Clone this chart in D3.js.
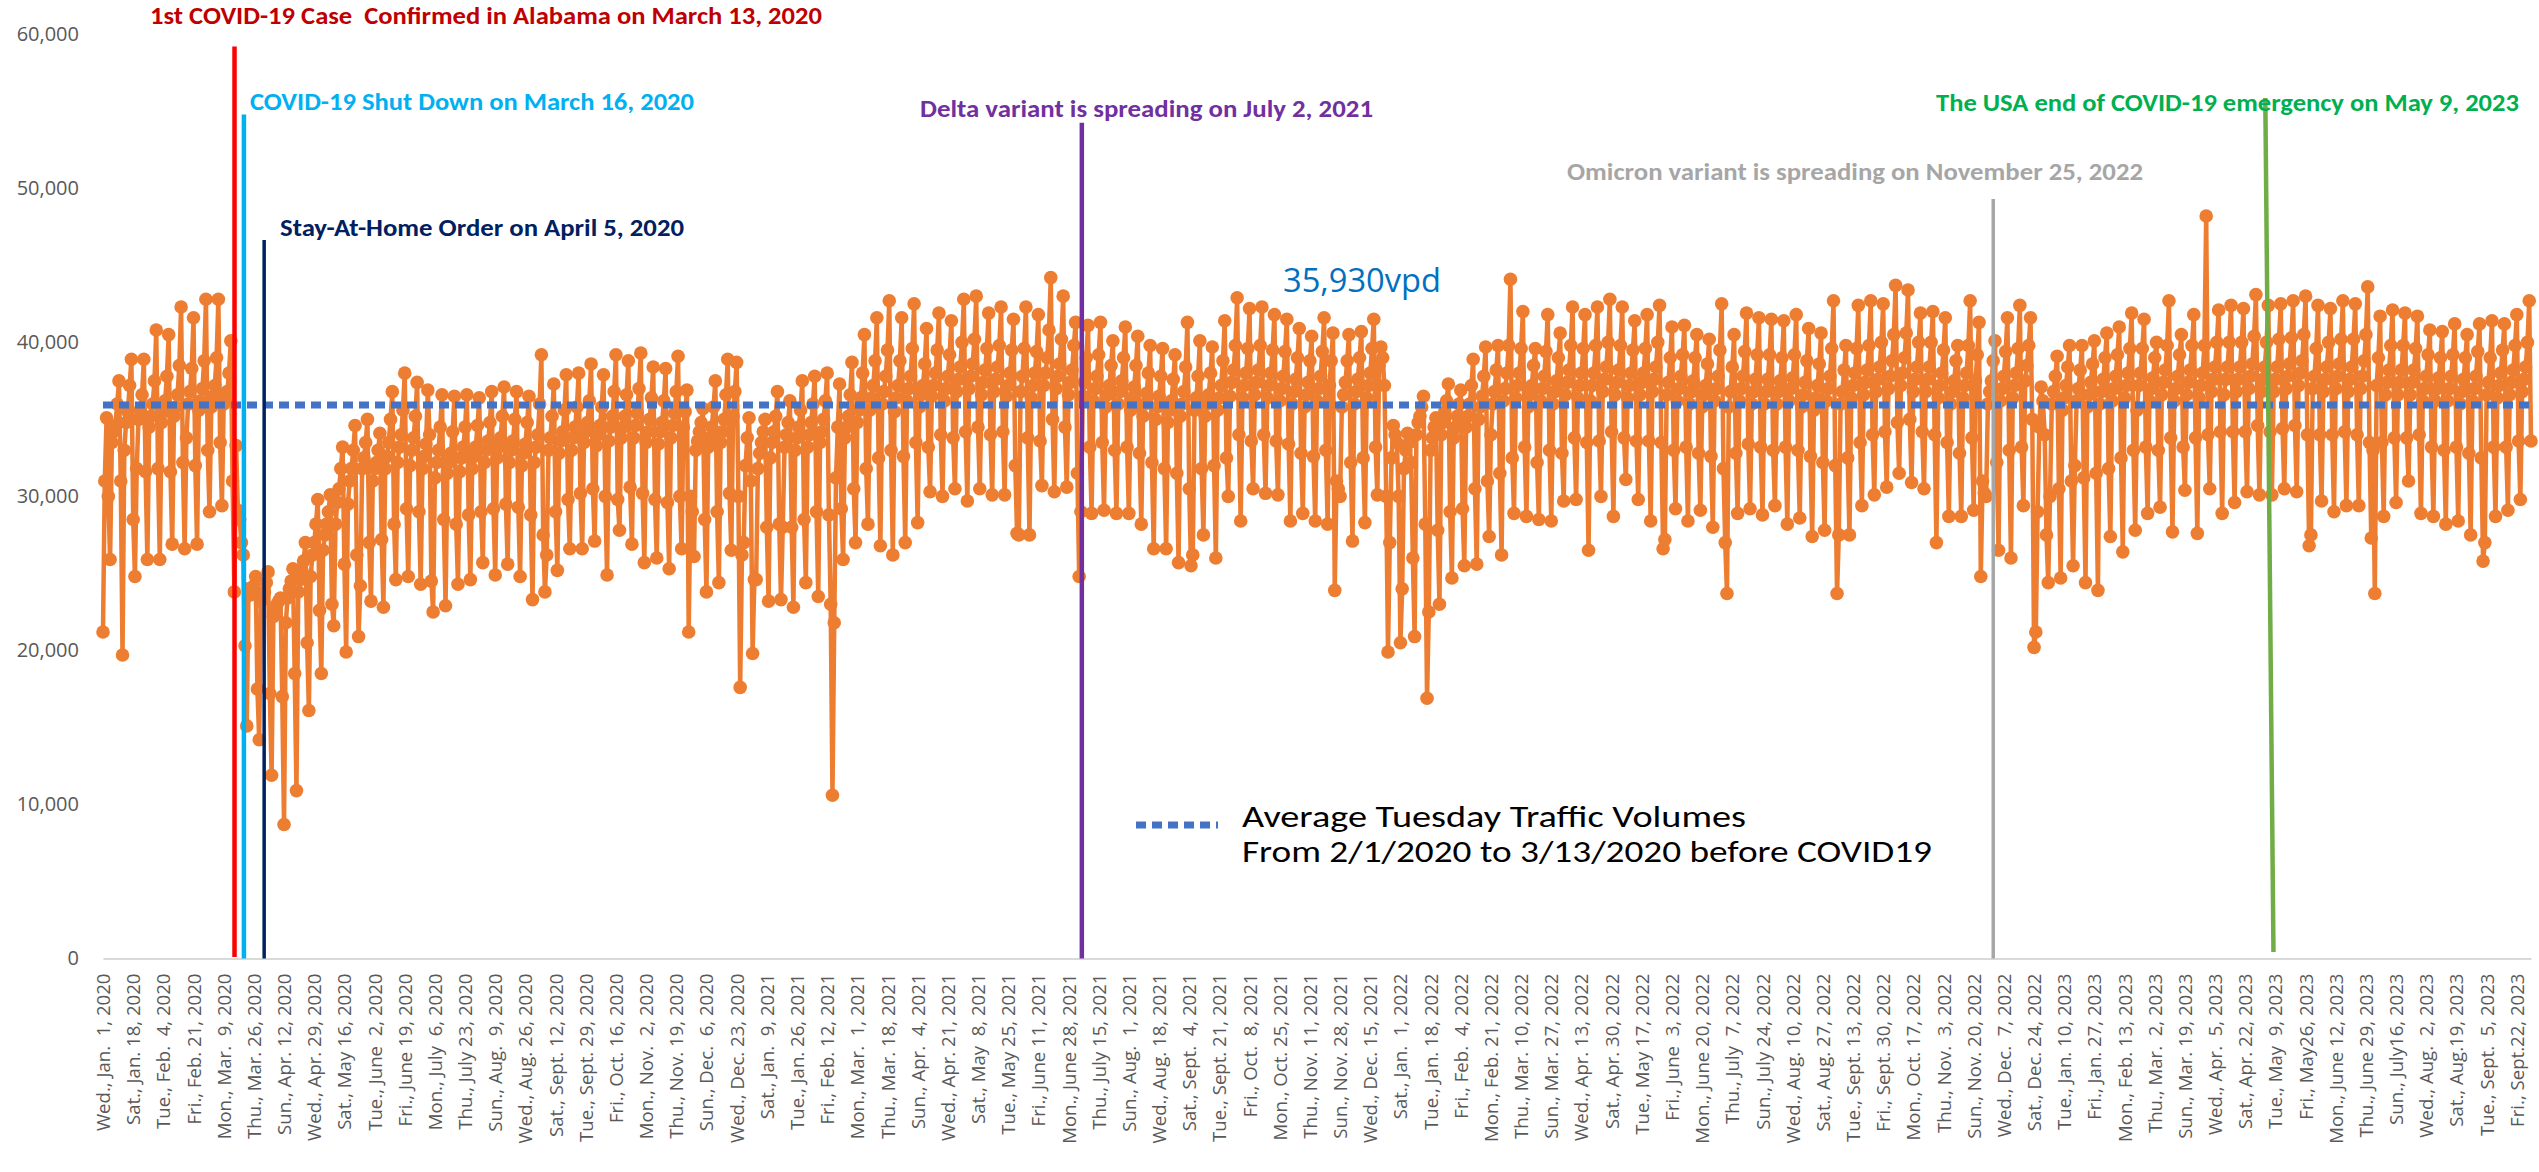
<!DOCTYPE html>
<html>
<head>
<meta charset="utf-8">
<script src="https://cdn.jsdelivr.net/npm/d3@7/dist/d3.min.js"></script>
<style>
  body { margin: 0; background: #fff; }
  text { white-space: pre; }
</style>
</head>
<body>
<script>

// Daily traffic volumes, in hundreds of vehicles per day.
// One row per week (Sun .. Sat); the first row starts on Wed., Jan. 1, 2020.
var weeks2020 = [
  "212 310 351 300",
  "259 335 342 346 360 375 310",
  "197 330 348 355 372 389 285",
  "248 318 350 356 366 389 316",
  "259 345 352 360 375 408 318",
  "259 348 355 362 378 405 316",
  "269 352 358 366 385 423 322",
  "266 338 360 368 383 416 320",
  "269 356 362 370 388 428 330",
  "290 358 365 372 390 428 335",
  "294 360 362 368 380 401 310",
  "238 333 291 285 270 262 203",
  "151 240 236 238 242 248 175",
  "142 232 235 238 244 251 172",
  "119 222 226 230 232 234 170",
  "87 218 234 240 245 253 185",
  "109 238 246 252 258 270 205",
  "161 248 262 270 282 298 226",
  "185 265 275 282 290 301 230",
  "216 282 296 305 318 332 256",
  "199 295 310 318 330 346 262",
  "209 242 318 325 335 350 270",
  "232 310 318 322 330 341 272",
  "228 318 326 335 350 368 282",
  "246 322 332 340 356 380 292",
  "248 320 330 338 352 374 290",
  "243 318 326 334 369 340 245",
  "225 312 322 330 345 366 285",
  "229 315 322 328 342 365 282",
  "243 316 325 332 345 366 288",
  "246 318 326 332 346 364 290",
  "257 322 330 336 348 368 292",
  "249 325 332 338 352 371 295",
  "256 322 330 336 350 368 293",
  "248 320 328 334 348 365 288",
  "233 322 332 340 360 392 275",
  "238 262 330 338 352 373 290",
  "252 328 336 342 356 379 298",
  "266 330 338 345 358 380 302",
  "266 335 342 348 362 386 305",
  "271 333 340 346 358 379 300",
  "249 336 345 352 368 392 298",
  "278 338 345 352 366 388 306",
  "269 338 346 354 370 393 302",
  "257 335 342 350 364 384 298",
  "260 334 342 348 362 383 296",
  "253 338 346 354 368 391 300",
  "266 345 355 369 212 300 290",
  "261 330 336 342 348 357 285",
  "238 332 338 345 358 375 290",
  "244 335 342 350 366 389 302",
  "265 352 368 387 300 176 262",
  "270 320 338 351 310 198 246"
];

var weeks2021 = [
  "246 318 328 335 342 350 280",
  "232 325 335 342 352 368 282",
  "233 280 332 340 348 362 280",
  "228 330 338 345 356 375 285",
  "244 332 340 348 360 378 290",
  "235 335 342 350 362 380 288",
  "230 106 218 312 345 373 292",
  "259 338 345 352 366 387 305",
  "270 348 356 364 380 405 318",
  "282 356 364 372 388 416 325",
  "268 360 368 378 395 427 330",
  "262 355 364 372 388 416 326",
  "270 362 370 378 396 425 335",
  "283 358 366 372 386 409 332",
  "303 365 372 380 395 419 340",
  "300 362 370 378 392 414 338",
  "305 368 376 384 400 428 342",
  "297 370 378 386 402 430 345",
  "305 366 374 382 396 419 340",
  "301 368 376 384 398 423 342",
  "301 365 372 380 395 415 320",
  "276 275 368 378 396 423 338",
  "275 364 372 380 394 418 336",
  "307 372 380 390 408 442 350",
  "303 370 378 386 402 430 345",
  "306 366 374 382 398 413 315",
  "248 290 365 374 390 411 332",
  "289 362 370 378 392 413 335",
  "291 358 366 372 385 401 330",
  "289 360 368 375 390 410 332",
  "289 356 364 371 385 404 328",
  "282 352 360 367 380 398 322",
  "266 350 358 365 378 396 318",
  "266 348 356 362 376 392 315",
  "257 352 360 368 384 413 305",
  "255 262 356 364 378 401 318",
  "275 352 360 366 380 397 320",
  "260 356 364 372 388 414 325",
  "300 365 374 382 398 429 340",
  "284 364 372 380 396 422 336",
  "305 366 374 382 398 423 340",
  "302 364 372 380 395 418 336",
  "301 362 370 378 394 415 334",
  "284 360 368 376 390 409 328",
  "289 358 366 374 388 404 326",
  "284 362 370 378 394 416 330",
  "282 372 388 406 239 310 305",
  "300 358 366 374 388 405 322",
  "271 360 368 376 390 407 325",
  "283 364 372 380 396 415 332",
  "301 385 397 390 372 300 199",
  "270 325 346 340 335 300 205"
];

var weeks2022 = [
  "240 318 330 341 335 322 260",
  "209 340 348 352 358 365 282",
  "169 225 330 338 345 351 278",
  "230 340 348 355 362 373 290",
  "247 338 345 352 360 369 292",
  "255 345 352 360 372 389 305",
  "256 350 358 365 378 397 310",
  "274 340 360 368 382 398 315",
  "262 362 370 380 398 441 325",
  "289 364 372 380 396 420 332",
  "287 358 366 372 385 396 322",
  "285 362 370 378 394 418 330",
  "284 360 368 375 390 406 328",
  "297 366 374 382 398 423 338",
  "298 364 372 380 396 418 335",
  "265 362 372 380 398 423 336",
  "300 368 376 384 400 428 342",
  "287 366 374 382 398 423 338",
  "311 364 372 380 395 414 336",
  "298 366 374 380 396 418 336",
  "284 368 376 384 400 424 335",
  "266 272 366 374 390 410 330",
  "292 362 370 378 392 411 332",
  "284 360 368 375 390 405 328",
  "291 358 366 372 386 402 326",
  "280 362 370 378 395 425 318",
  "270 237 358 368 384 405 328",
  "289 362 370 378 394 419 334",
  "292 360 368 376 392 416 332",
  "288 360 368 376 392 415 330",
  "294 360 368 375 390 414 332",
  "282 362 370 377 392 418 330",
  "286 358 366 374 388 409 326",
  "274 356 364 372 386 406 322",
  "278 362 370 378 396 427 320",
  "237 275 360 368 382 398 325",
  "275 364 372 380 396 424 335",
  "294 366 374 382 398 427 340",
  "301 368 376 384 400 425 342",
  "306 370 378 388 405 437 348",
  "315 372 380 390 406 434 350",
  "309 368 376 384 400 419 342",
  "305 368 376 384 400 420 340",
  "270 364 372 380 395 416 335",
  "287 360 368 375 388 398 328",
  "287 364 372 380 398 427 338",
  "291 375 392 413 248 310 302",
  "300 360 368 375 388 401 322",
  "265 362 370 378 394 416 330",
  "260 364 372 380 396 424 332",
  "294 375 385 398 416 350 202",
  "212 290 345 371 362 340 275"
];

var weeks2023 = [
  "244 300 360 368 378 391 305",
  "247 356 364 372 384 398 310",
  "255 320 362 370 382 398 312",
  "244 358 366 374 386 401 315",
  "239 360 368 376 390 406 318",
  "274 362 370 378 392 410 325",
  "264 364 372 380 396 419 330",
  "278 356 372 380 396 415 332",
  "289 362 370 377 390 400 330",
  "293 366 374 382 398 427 338",
  "277 362 370 378 392 405 332",
  "304 366 374 382 398 418 338",
  "276 364 372 380 398 482 340",
  "305 368 376 384 400 421 342",
  "289 366 376 384 400 424 342",
  "296 368 376 384 400 422 342",
  "303 370 378 386 404 431 346",
  "301 368 376 384 400 424 342",
  "301 368 376 384 402 425 344",
  "305 370 378 386 403 427 346",
  "303 372 380 388 405 430 340",
  "268 275 370 378 396 424 340",
  "297 368 376 384 400 422 340",
  "290 370 378 386 402 427 342",
  "294 368 376 384 402 425 340",
  "294 370 378 388 405 436 335",
  "273 330 237 372 390 417 335",
  "287 366 374 382 398 421 338",
  "296 366 374 382 398 419 338",
  "310 366 374 382 396 417 340",
  "289 362 370 378 392 408 332",
  "287 362 370 377 390 407 330",
  "282 362 370 378 392 412 332",
  "284 360 368 376 390 405 328",
  "275 362 370 378 394 412 325",
  "258 270 366 374 390 414 332",
  "287 364 372 380 395 412 332",
  "291 366 374 382 398 418 336",
  "298 368 376 384 400 427 336"
];

// one label every 17 days
var tickLabels = [
  "Wed., Jan.  1, 2020", "Sat., Jan. 18, 2020", "Tue., Feb.  4, 2020", "Fri., Feb. 21, 2020",
  "Mon., Mar.  9, 2020", "Thu., Mar. 26, 2020", "Sun., Apr. 12, 2020", "Wed., Apr. 29, 2020",
  "Sat., May 16, 2020", "Tue., June  2, 2020", "Fri., June 19, 2020", "Mon., July  6, 2020",
  "Thu., July 23, 2020", "Sun., Aug.  9, 2020", "Wed., Aug. 26, 2020", "Sat., Sept. 12, 2020",
  "Tue., Sept. 29, 2020", "Fri., Oct. 16, 2020", "Mon., Nov.  2, 2020", "Thu., Nov. 19, 2020",
  "Sun., Dec.  6, 2020", "Wed., Dec. 23, 2020", "Sat., Jan.  9, 2021", "Tue., Jan. 26, 2021",
  "Fri., Feb. 12, 2021", "Mon., Mar.  1, 2021", "Thu., Mar. 18, 2021", "Sun., Apr.  4, 2021",
  "Wed., Apr. 21, 2021", "Sat., May  8, 2021", "Tue., May 25, 2021", "Fri., June 11, 2021",
  "Mon., June 28, 2021", "Thu., July 15, 2021", "Sun., Aug.  1, 2021", "Wed., Aug. 18, 2021",
  "Sat., Sept.  4, 2021", "Tue., Sept. 21, 2021", "Fri., Oct.  8, 2021", "Mon., Oct. 25, 2021",
  "Thu., Nov. 11, 2021", "Sun., Nov. 28, 2021", "Wed., Dec. 15, 2021", "Sat., Jan.  1, 2022",
  "Tue., Jan. 18, 2022", "Fri., Feb.  4, 2022", "Mon., Feb. 21, 2022", "Thu., Mar. 10, 2022",
  "Sun., Mar. 27, 2022", "Wed., Apr. 13, 2022", "Sat., Apr. 30, 2022", "Tue., May 17, 2022",
  "Fri., June  3, 2022", "Mon., June 20, 2022", "Thu., July  7, 2022", "Sun., July 24, 2022",
  "Wed., Aug. 10, 2022", "Sat., Aug. 27, 2022", "Tue., Sept. 13, 2022", "Fri., Sept. 30, 2022",
  "Mon., Oct. 17, 2022", "Thu., Nov.  3, 2022", "Sun., Nov. 20, 2022", "Wed., Dec.  7, 2022",
  "Sat., Dec. 24, 2022", "Tue., Jan. 10, 2023", "Fri., Jan. 27, 2023", "Mon., Feb. 13, 2023",
  "Thu., Mar.  2, 2023", "Sun., Mar. 19, 2023", "Wed., Apr.  5, 2023", "Sat., Apr. 22, 2023",
  "Tue., May  9, 2023", "Fri., May26, 2023", "Mon., June 12, 2023", "Thu., June 29, 2023",
  "Sun., July16, 2023", "Wed., Aug.  2, 2023", "Sat., Aug.19, 2023", "Tue., Sept.  5, 2023",
  "Fri., Sept.22, 2023"
];
var yTicks = [0, 10000, 20000, 30000, 40000, 50000, 60000];

// average Tuesday volume 2/1/2020 - 3/13/2020
var avgTuesday = 35930;

// event markers: day index (0 = Jan. 1, 2020) where they were drawn, top / bottom value
var eventLabels = [
  "1st COVID-19 Case  Confirmed in Alabama on March 13, 2020",
  "COVID-19 Shut Down on March 16, 2020",
  "Stay-At-Home Order on April 5, 2020",
  "Delta variant is spreading on July 2, 2021",
  "Omicron variant is spreading on November 25, 2022",
  "The USA end of COVID-19 emergency on May 9, 2023"
];
var eventDayTop = [74.1, 79.4, 90.8, 551.5, 1065, 1218.3];
var eventDayBottom = [74.1, 79.4, 90.8, 551.5, 1065, 1222.9];
var eventTop = [59200, 54800, 46650, 54250, 49300, 55860];
var eventBottom = [100, 0, 0, 0, 0, 420];
var eventLineColors = ["#FF0000", "#00B0F0", "#002060", "#7030A0", "#A6A6A6", "#70AD47"];
var eventTextColors = ["#C00000", "#00B0F0", "#002060", "#7030A0", "#A6A6A6", "#00B050"];

// where the event texts sit (x, baseline, width) in the picture
var eventTextBox = [[150, 24, 672], [250, 110, 444], [280, 236, 404],
                    [920, 117, 453], [1567, 180, 576], [1936, 111, 583]];

//Build the daily list from the weekly rows
var volumes = [];
[weeks2020, weeks2021, weeks2022, weeks2023].forEach(function(year){
	year.forEach(function(row){
		row.split(" ").forEach(function(v){ volumes.push(+v * 100); });
	});
});

var width = 2539, height = 1172;
var svg = d3.select("body").append("svg")
	.attr("width", width).attr("height", height)
	.style("background", "#fff");

var x = d3.scaleLinear().domain([0, 1368]).range([103, 2531]);
var y = d3.scaleLinear().domain([0, 60000]).range([958.5, 34.3]);

var labelFont = "'Segoe UI', 'Open Sans', sans-serif";
var boldFont = "Calibri, Carlito, Lato, sans-serif";

//y axis, labels only
var gy = svg.append("g").attr("transform", "translate(103,0)")
	.call(d3.axisLeft(y).tickValues(yTicks).tickFormat(d3.format(",")).tickSize(0).tickPadding(24));
gy.select(".domain").remove();
gy.selectAll("text").style("font-family", labelFont).style("font-size", "20px").attr("fill", "#595959");

//x axis with rotated date labels
var gx = svg.append("g").attr("transform", "translate(0," + y(0) + ")")
	.call(d3.axisBottom(x)
		.tickValues(tickLabels.map(function(d, i){ return i * 17; }))
		.tickFormat(function(d, i){ return tickLabels[i]; })
		.tickSize(0).tickSizeOuter(0));
gx.select(".domain").attr("stroke", "#D9D9D9").attr("stroke-width", 2);
gx.selectAll("text")
	.attr("transform", "rotate(-90)")
	.attr("x", -15).attr("y", 0).attr("dy", "0.35em")
	.attr("text-anchor", "end")
	.style("font-family", labelFont).style("font-size", "18.6px")
	.attr("fill", "#595959");

//the daily series
var line = d3.line().x(function(d, i){ return x(i); }).y(function(d){ return y(d); });
svg.append("path").datum(volumes)
	.attr("d", line).attr("fill", "none")
	.attr("stroke", "#ED7D31").attr("stroke-width", 4.5).attr("stroke-linejoin", "round");
svg.append("g").selectAll("circle").data(volumes).join("circle")
	.attr("cx", function(d, i){ return x(i); })
	.attr("cy", function(d){ return y(d); })
	.attr("r", 6.8).attr("fill", "#ED7D31");

//average tuesday line
svg.append("line")
	.attr("x1", x(0)).attr("x2", x(1368))
	.attr("y1", y(avgTuesday)).attr("y2", y(avgTuesday))
	.attr("stroke", "#4472C4").attr("stroke-width", 7).attr("stroke-dasharray", "10 6");

svg.append("text").attr("x", 1283).attr("y", 292)
	.attr("textLength", 158).attr("lengthAdjust", "spacingAndGlyphs")
	.style("font-family", labelFont).style("font-size", "32px")
	.attr("fill", "#0070C0").text(d3.format(",")(avgTuesday) + "vpd");

//event lines and their captions
eventLabels.forEach(function(label, i){
	svg.append("line")
		.attr("x1", x(eventDayTop[i])).attr("y1", y(eventTop[i]))
		.attr("x2", x(eventDayBottom[i])).attr("y2", y(eventBottom[i]))
		.attr("stroke", eventLineColors[i]).attr("stroke-width", i == 2 || i == 4 ? 3.5 : 4.5);
	var b = eventTextBox[i];
	svg.append("text").attr("x", b[0]).attr("y", b[1])
		.attr("textLength", b[2]).attr("lengthAdjust", "spacingAndGlyphs")
		.style("font-family", boldFont).style("font-size", "24px").style("font-weight", "bold")
		.attr("fill", eventTextColors[i]).text(label);
});

//legend
svg.append("line").attr("x1", 1136).attr("x2", 1218).attr("y1", 825).attr("y2", 825)
	.attr("stroke", "#4472C4").attr("stroke-width", 7).attr("stroke-dasharray", "10 6");
svg.append("text").attr("x", 1242).attr("y", 827)
	.attr("textLength", 504).attr("lengthAdjust", "spacingAndGlyphs")
	.style("font-family", boldFont).style("font-size", "30px").attr("fill", "#000")
	.text("Average Tuesday Traffic Volumes");
svg.append("text").attr("x", 1242).attr("y", 862)
	.attr("textLength", 690).attr("lengthAdjust", "spacingAndGlyphs")
	.style("font-family", boldFont).style("font-size", "30px").attr("fill", "#000")
	.text("From 2/1/2020 to 3/13/2020 before COVID19");

</script>
</body>
</html>
